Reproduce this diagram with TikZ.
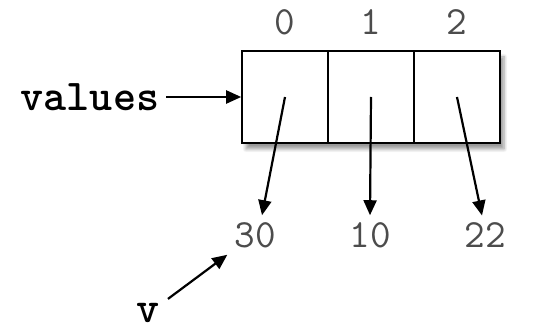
\documentclass[tikz,border=0pt]{standalone}
\usepackage{fontspec}
\usetikzlibrary{arrows.meta,fit,shadows.blur}
\tikzset{
  cell/.style={rectangle, draw=black, line width=0.8pt, fill=white,
               minimum width=43pt, minimum height=46pt, inner sep=0pt},
  arrbg/.style={rectangle, fill=white, inner sep=0pt,
                blur shadow={shadow xshift=2pt, shadow yshift=-3pt, shadow blur steps=6, shadow opacity=40}},
  idx/.style={font=\ttfamily\fontsize{20}{20}\selectfont, text=black!70},
  num/.style={font=\ttfamily\fontsize{20}{20}\selectfont, text=black!70},
  varname/.style={font=\ttfamily\bfseries\fontsize{22}{22}\selectfont},
  ptr/.style={-{Triangle[length=7.5pt,width=6.5pt]}, line width=1.1pt},
}
\begin{document}
\begin{tikzpicture}[x=0.5pt,y=-0.5pt]
\useasboundingbox (0,0) rectangle (552,331);

% the array and its slots
\coordinate (nw) at (242,51);
\coordinate (se) at (500,143);
\node[arrbg, fit=(nw)(se)] (arr) {};
\node[cell] (cell0) at (285,97) {};
\node[cell] (cell1) at (371,97) {};
\node[cell] (cell2) at (457,97) {};

\node[idx] (idx0) at (285,22) {0};
\node[idx] (idx1) at (371,22) {1};
\node[idx] (idx2) at (457,22) {2};

% the objects the slots refer to
\node[num] (num30) at (255,235) {30};
\node[num] (num10) at (370,235) {10};
\node[num] (num22) at (485,235) {22};

\node[varname] (values) at (90,97) {values};
\node[varname, inner sep=2pt] (v) at (148,313) {v};

\draw[ptr] (values.east) -- (cell0.west);
\draw[ptr] (cell0.center) -- ([xshift=3.5pt]num30.north);
\draw[ptr] (cell1.center) -- (num10.north);
\draw[ptr] (cell2.center) -- ([xshift=-1.5pt]num22.north);
\draw[ptr] ([xshift=2pt]v.north east) -- (num30.south west);
\end{tikzpicture}
\end{document}
